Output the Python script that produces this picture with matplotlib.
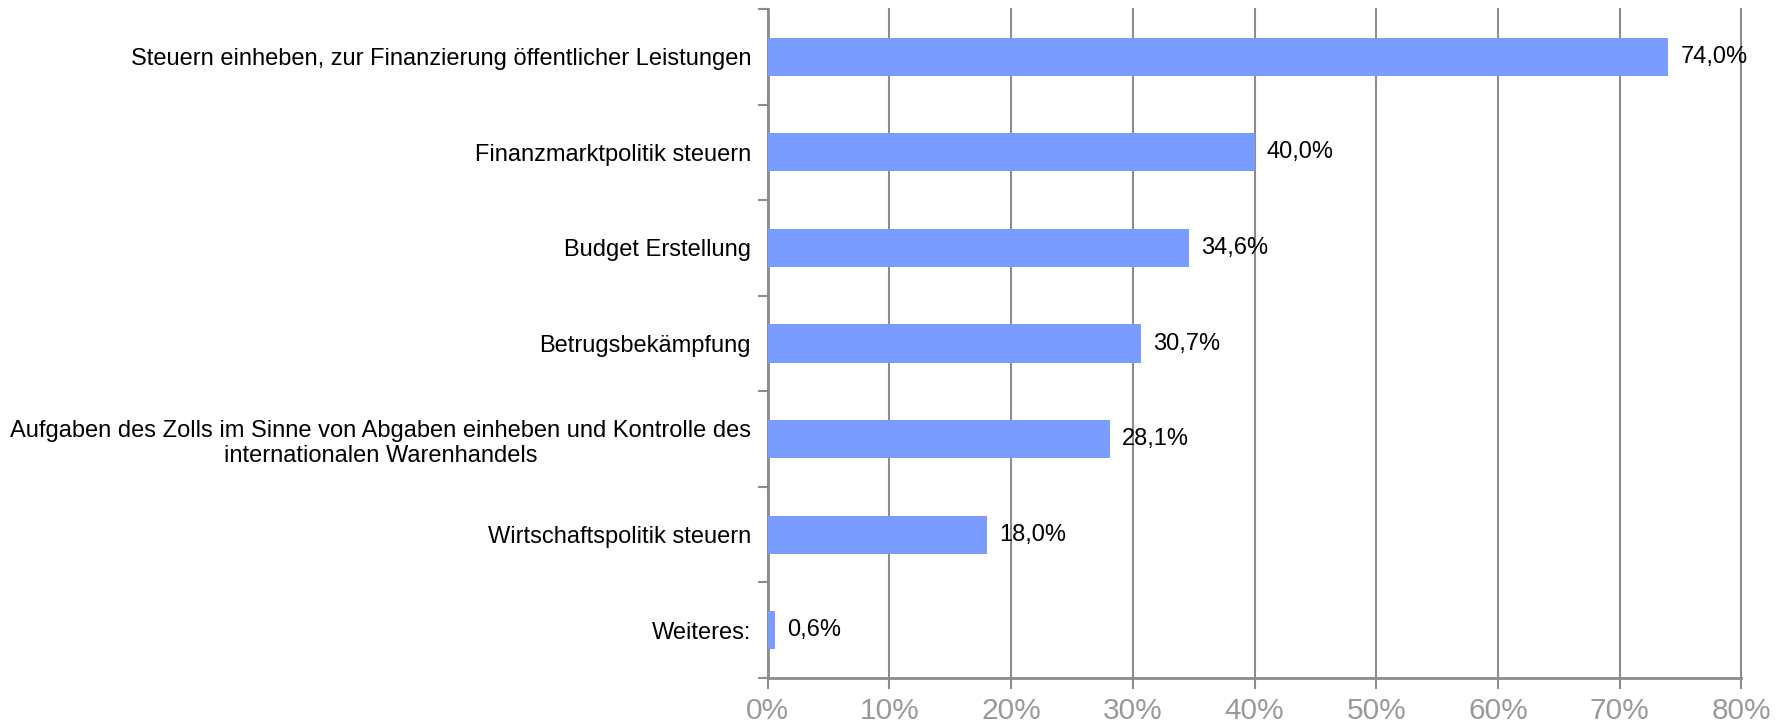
import matplotlib.pyplot as plt
import numpy as np

plt.rcParams['font.family'] = ['Liberation Sans', 'DejaVu Sans']

# data
categories = ['Steuern einheben, zur Finanzierung öffentlicher Leistungen',
              'Finanzmarktpolitik steuern',
              'Budget Erstellung',
              'Betrugsbekämpfung',
              'Aufgaben des Zolls im Sinne von Abgaben einheben und Kontrolle des\ninternationalen Warenhandels',
              'Wirtschaftspolitik steuern',
              'Weiteres:']
values = [74.0, 40.0, 34.6, 30.7, 28.1, 18.0, 0.6]
x_ticks = [0, 10, 20, 30, 40, 50, 60, 70, 80]

bar_color = '#7a9cff'
grid_color = '#8c8c8c'

fig = plt.figure(figsize=(17.8, 7.26), dpi=100)
ax = fig.add_axes([0.4313, 0.0661, 0.9783 - 0.4313, 0.9876 - 0.0661])

y = np.arange(len(categories))
ax.barh(y, values, height=0.4, color=bar_color, zorder=3)

for yi, v in zip(y, values):
    ax.text(v + 1.0, yi, f'{v:.1f}%'.replace('.', ','), va='center', ha='left',
            fontsize=17, color='black', zorder=4)

ax.set_xlim(0, 80)
ax.set_ylim(len(categories) - 0.5, -0.5)

ax.set_xticks(x_ticks)
ax.set_xticklabels([f'{t}%' for t in x_ticks], fontsize=21.5, color='#999999')
ax.tick_params(axis='x', length=8, width=1.5, color=grid_color, pad=6)

# band separators as major ticks, category labels on minor ticks
ax.set_yticks(np.arange(len(categories) + 1) - 0.5)
ax.set_yticklabels([])
ax.tick_params(axis='y', which='major', length=7, width=1.5, color=grid_color)
ax.set_yticks(y, minor=True)
ax.set_yticklabels(categories, minor=True, fontsize=17, multialignment='center')
ax.tick_params(axis='y', which='minor', length=0, pad=12)

ax.xaxis.grid(True, color=grid_color, linewidth=1.5, zorder=0, clip_on=False)
ax.set_axisbelow(True)

for s in ['top', 'right']:
    ax.spines[s].set_visible(False)
for s in ['left', 'bottom']:
    ax.spines[s].set_color(grid_color)
    ax.spines[s].set_linewidth(2)

fig.savefig('out.png', dpi=100)
